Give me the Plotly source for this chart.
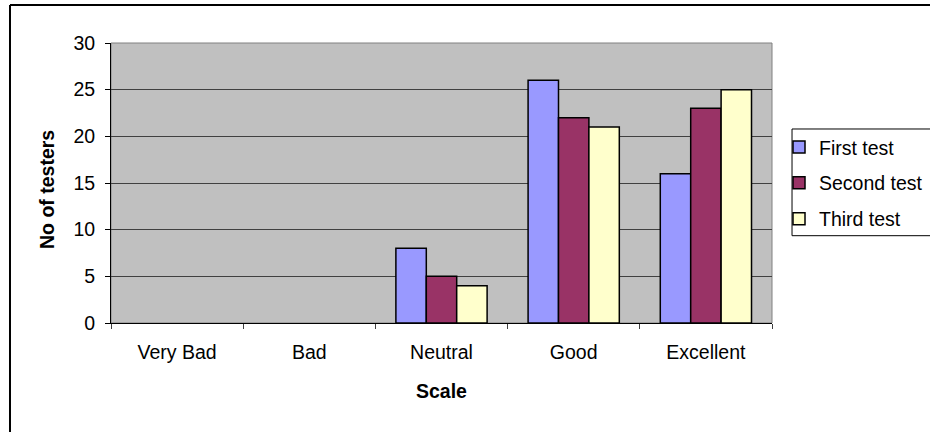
import plotly.graph_objects as go

# Ratings scale and tester counts for each test round
categories = ["Very Bad", "Bad", "Neutral", "Good", "Excellent"]
first_test = [0, 0, 8, 26, 16]
second_test = [0, 0, 5, 22, 23]
third_test = [0, 0, 4, 21, 25]
series_names = ["First test", "Second test", "Third test"]
series_colors = ["#9999FF", "#993366", "#FFFFCC"]
y_ticks = [0, 5, 10, 15, 20, 25, 30]

FONT = "Liberation Sans, Arial, sans-serif"
FS = 19.5

fig = go.Figure()
for i, (name, vals, col) in enumerate(zip(series_names,
                                          [first_test, second_test, third_test],
                                          series_colors)):
    # empty counts are left out so no flat outline is drawn on the axis
    shown = [v if v > 0 else None for v in vals]
    fig.add_trace(go.Bar(
        x=categories, y=shown, name=name, legendgroup=f"g{i}",
        marker=dict(color=col, line=dict(color="black", width=1.5)),
    ))

fig.update_layout(
    width=930, height=432,
    margin=dict(l=111, r=158, t=43, b=109, autoexpand=False),
    paper_bgcolor="white",
    plot_bgcolor="#C0C0C0",
    barmode="group",
    bargap=0.31,
    bargroupgap=0,
    font=dict(family=FONT, size=FS, color="black"),
    showlegend=True,
    legend=dict(
        x=1.0106, xanchor="left",
        y=0.697, yanchor="top",
        bgcolor="rgba(0,0,0,0)",
        borderwidth=0,
        tracegroupgap=7.5,
        font=dict(family=FONT, size=FS, color="black"),
    ),
)

fig.update_xaxes(
    type="category",
    showgrid=False,
    showline=True, linecolor="black", linewidth=1,
    ticks="outside", tickson="boundaries", ticklen=5, tickcolor="#404040",
    ticklabelstandoff=12,
    tickfont=dict(family=FONT, size=FS, color="black"),
)
fig.update_yaxes(
    range=[0, 30],
    tickvals=y_ticks,
    showgrid=True, gridcolor="#404040", gridwidth=1,
    showline=True, linecolor="black", linewidth=1,
    ticks="outside", ticklen=5, tickcolor="black",
    ticklabelstandoff=6,
    zeroline=False,
    tickfont=dict(family=FONT, size=FS, color="black"),
)

# Plot-area frame (top/right edges), legend box and outer chart border
fig.add_shape(type="rect", xref="paper", yref="paper", x0=0, x1=1, y0=0, y1=1,
              line=dict(color="#808080", width=1), layer="below")
fig.add_shape(type="rect", xref="paper", yref="paper",
              x0=1.0303, x1=1.2405, y0=0.3118, y1=0.6929,
              line=dict(color="black", width=1), fillcolor="rgba(0,0,0,0)")
fig.add_shape(type="line", xref="paper", yref="paper",
              x0=-0.1528, x1=-0.1528, y0=-0.5, y1=1.1357,
              line=dict(color="black", width=2))
fig.add_shape(type="line", xref="paper", yref="paper",
              x0=-0.1528, x1=1.3, y0=1.1357, y1=1.1357,
              line=dict(color="black", width=2))

# Axis titles
fig.add_annotation(text="<b>No of testers</b>", xref="paper", yref="paper",
                   x=-0.0968, y=0.475, textangle=-90, showarrow=False,
                   xanchor="center", yanchor="middle",
                   font=dict(family=FONT, size=FS, color="black"))
fig.add_annotation(text="<b>Scale</b>", xref="paper", yref="paper",
                   x=0.5, y=-0.2446, showarrow=False,
                   xanchor="center", yanchor="middle",
                   font=dict(family=FONT, size=FS, color="black"))

fig.write_html("out.html")
